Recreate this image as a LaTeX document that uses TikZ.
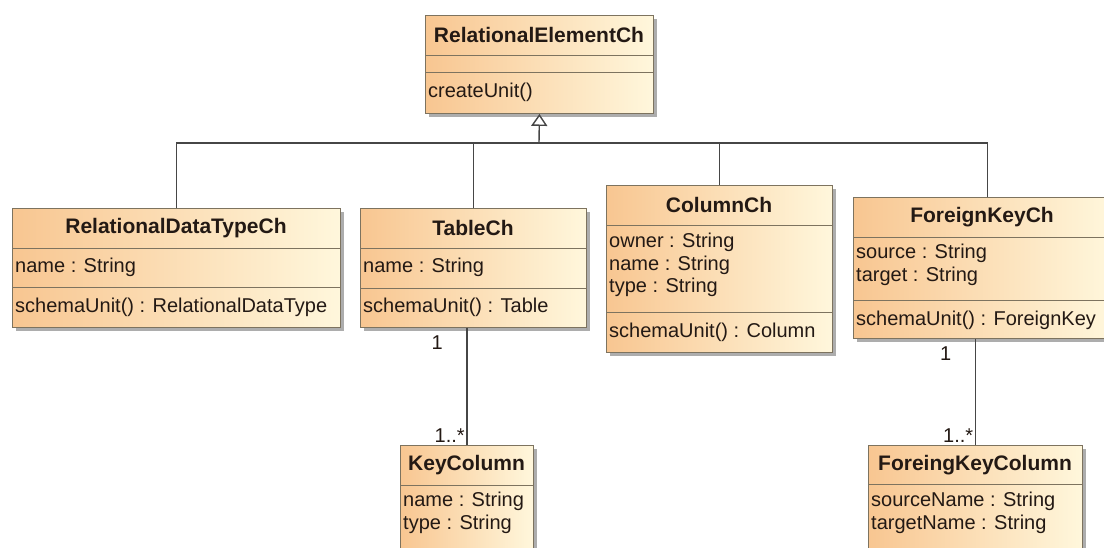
\documentclass[tikz,border=0pt]{standalone}
\usepackage{fontspec}
\setmainfont{Liberation Sans}
\usetikzlibrary{positioning, shadows, arrows.meta, calc}
\definecolor{umlorange}{RGB}{248,198,145}
\definecolor{umlcream}{RGB}{255,247,220}
\definecolor{umlborder}{RGB}{125,115,95}
\definecolor{umltext}{RGB}{35,25,20}
\definecolor{umlwire}{RGB}{70,70,70}

\begin{document}
\begin{tikzpicture}[
        x=1pt, y=-1pt,
        classbox/.style={draw=umlborder, line width=0.9pt, left color=umlorange, right color=umlcream, inner sep=0pt, anchor=north west,
            drop shadow={shadow xshift=4pt, shadow yshift=-4pt, fill=black!40, opacity=0.8}},
        title/.style={font=\fontsize{21}{24}\selectfont\bfseries, text=umltext, inner sep=0pt},
        member/.style={font=\fontsize{20}{22.5}\selectfont, text=umltext, align=left, anchor=west, inner sep=0pt},
        divider/.style={draw=umlborder, line width=0.9pt},
        wire/.style={draw=umlwire, line width=1.4pt},
        inherit/.style={wire, -{Triangle[open, length=12pt, width=16pt]}},
        mult/.style={font=\fontsize{20}{22}\selectfont, text=umltext, inner sep=1.5pt},
    ]
    \useasboundingbox (0,0) rectangle (1104,547);
    \clip (0,0) rectangle (1104,547);
    \fill[white] (0,0) rectangle (1104,547);

    % base class
    \node[classbox, minimum width=228pt, minimum height=98pt] (rel) at (425,15) {};
    \draw[divider] ([yshift=-40pt]rel.north west) -- ([yshift=-40pt]rel.north east);
    \draw[divider] ([yshift=-57pt]rel.north west) -- ([yshift=-57pt]rel.north east);
    \node[title] (relT) at (539,35) {RelationalElementCh};
    \node[member] (relO) at (428,92) {createUnit()};

    % subclasses
    \node[classbox, minimum width=328pt, minimum height=119pt] (rdt) at (12,208) {};
    \draw[divider] ([yshift=-40pt]rdt.north west) -- ([yshift=-40pt]rdt.north east);
    \draw[divider] ([yshift=-79pt]rdt.north west) -- ([yshift=-79pt]rdt.north east);
    \node[title] (rdtT) at (176,228) {RelationalDataTypeCh};
    \node[member] (rdtA) at (15,267) {name : String};
    \node[member] (rdtO) at (15,307) {schemaUnit() : RelationalDataType};

    \node[classbox, minimum width=226pt, minimum height=119pt] (table) at (360,208) {};
    \draw[divider] ([yshift=-40pt]table.north west) -- ([yshift=-40pt]table.north east);
    \draw[divider] ([yshift=-80pt]table.north west) -- ([yshift=-80pt]table.north east);
    \node[title] (tableT) at (473,228) {TableCh};
    \node[member] (tableA) at (363,267) {name : String};
    \node[member] (tableO) at (363,307) {schemaUnit() : Table};

    \node[classbox, minimum width=226pt, minimum height=167pt] (column) at (606,185) {};
    \draw[divider] ([yshift=-40pt]column.north west) -- ([yshift=-40pt]column.north east);
    \draw[divider] ([yshift=-127pt]column.north west) -- ([yshift=-127pt]column.north east);
    \node[title] (columnT) at (719,205) {ColumnCh};
    \node[member] (columnA) at (609,265) {owner : String\\name : String\\type : String};
    \node[member] (columnO) at (609,332) {schemaUnit() : Column};

    \node[classbox, minimum width=258pt, minimum height=141pt] (fk) at (853,197) {};
    \draw[divider] ([yshift=-40pt]fk.north west) -- ([yshift=-40pt]fk.north east);
    \draw[divider] ([yshift=-103pt]fk.north west) -- ([yshift=-103pt]fk.north east);
    \node[title] (fkT) at (982,217) {ForeignKeyCh};
    \node[member] (fkA) at (856,265) {source : String\\target : String};
    \node[member] (fkO) at (856,320) {schemaUnit() : ForeignKey};

    % parts
    \node[classbox, minimum width=133pt, minimum height=120pt] (keycol) at (400,445) {};
    \draw[divider] ([yshift=-40pt]keycol.north west) -- ([yshift=-40pt]keycol.north east);
    \node[title] (keycolT) at (466.5,465) {KeyColumn};
    \node[member] (keycolA) at (403,513) {name : String\\type : String};

    \node[classbox, minimum width=214pt, minimum height=120pt] (fkcol) at (868,445) {};
    \draw[divider] ([yshift=-39pt]fkcol.north west) -- ([yshift=-39pt]fkcol.north east);
    \node[title] (fkcolT) at (975,465) {ForeingKeyColumn};
    \node[member] (fkcolA) at (871,513) {sourceName : String\\targetName : String};

    % generalization
    \coordinate (bus) at (539,143);
    \draw[wire] (rdt.north) |- (bus);
    \draw[wire] (table.north) |- (bus);
    \draw[wire] (column.north) |- (bus);
    \draw[wire] ([xshift=5pt]fk.north) |- (bus);
    \draw[inherit] (bus) -- (rel.south);

    % associations
    \draw[wire] (keycol.north)
        -- node[mult, at start, anchor=south east] {1..*}
           node[mult, at end, anchor=north east, xshift=-22pt, yshift=-6pt] {1}
        (keycol.north |- table.south);
    \draw[wire] (fkcol.north)
        -- node[mult, at start, anchor=south east] {1..*}
           node[mult, at end, anchor=north east, xshift=-22pt, yshift=-6pt] {1}
        (fkcol.north |- fk.south);
\end{tikzpicture}
\end{document}
